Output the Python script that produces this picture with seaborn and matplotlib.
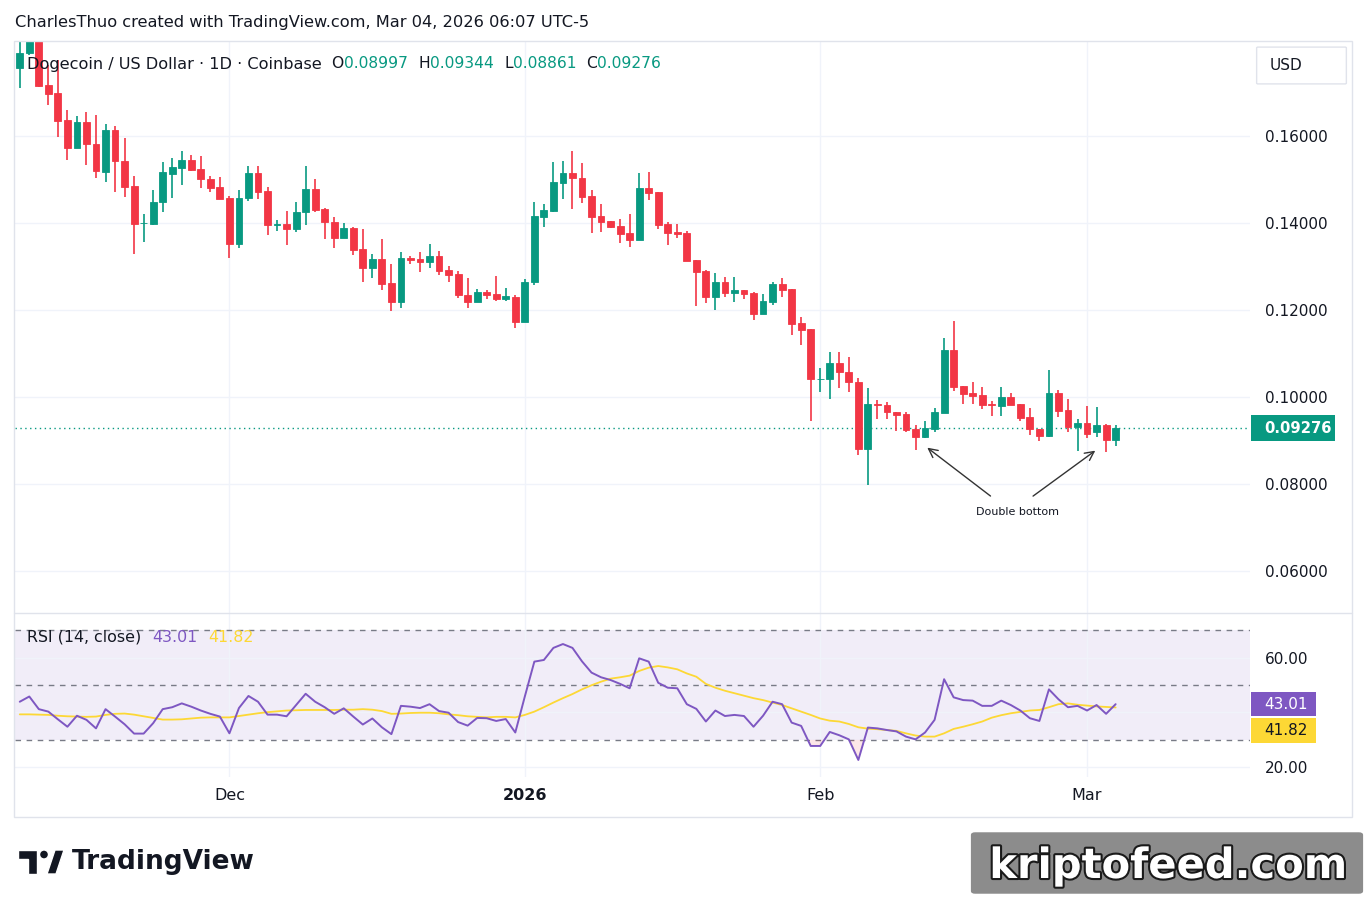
# Dogecoin / US Dollar, 1D, Coinbase - candles + RSI(14) pane

import numpy as np
import pandas as pd
import matplotlib
matplotlib.use("Agg")
import matplotlib.pyplot as plt
import matplotlib.patheffects as pe
from matplotlib.lines import Line2D
from matplotlib.patches import Rectangle, FancyBboxPatch, Polygon, Ellipse
import seaborn as sns

# daily candles, first candle = Nov 9 2025, last = Mar 4 2026
start_day = "2025-11-09"

opens = [0.1757, 0.1790, 0.1830, 0.1717, 0.1698, 0.1637, 0.1573, 0.1631, 0.1582, 0.1516,
         0.1614, 0.1543, 0.1485, 0.1399, 0.1397, 0.1447, 0.1513, 0.1527, 0.1545, 0.1524,
         0.1501, 0.1483, 0.1457, 0.1352, 0.1456, 0.1515, 0.1474, 0.1396, 0.1398, 0.1385,
         0.1424, 0.1478, 0.1432, 0.1402, 0.1366, 0.1388, 0.1340, 0.1295, 0.1317, 0.1262,
         0.1217, 0.1319, 0.1317, 0.1309, 0.1324, 0.1292, 0.1283, 0.1234, 0.1217, 0.1241,
         0.1237, 0.1224, 0.1230, 0.1171, 0.1264, 0.1414, 0.1428, 0.1492, 0.1515, 0.1503,
         0.1462, 0.1416, 0.1404, 0.1393, 0.1377, 0.1361, 0.1480, 0.1471, 0.1398, 0.1379,
         0.1377, 0.1315, 0.1290, 0.1230, 0.1264, 0.1239, 0.1246, 0.1239, 0.1191, 0.1218,
         0.1260, 0.1248, 0.1170, 0.1156, 0.1040, 0.1040, 0.1078, 0.1057, 0.1034, 0.0881,
         0.0984, 0.0982, 0.0965, 0.0960, 0.0926, 0.0908, 0.0926, 0.0962, 0.1108, 0.1025,
         0.1009, 0.1004, 0.0984, 0.0980, 0.1000, 0.0984, 0.0954, 0.0926, 0.0911, 0.1009,
         0.0970, 0.0931, 0.0940, 0.0918, 0.0935, 0.08997]
highs = [0.1815, 0.1845, 0.1845, 0.1763, 0.1775, 0.1660, 0.1646, 0.1654, 0.1648, 0.1628,
         0.1623, 0.1595, 0.1508, 0.1421, 0.1476, 0.1539, 0.1549, 0.1566, 0.1555, 0.1554,
         0.1508, 0.1506, 0.1462, 0.1476, 0.1531, 0.1531, 0.1483, 0.1407, 0.1428, 0.1449,
         0.1531, 0.1501, 0.1434, 0.1414, 0.1400, 0.1391, 0.1385, 0.1329, 0.1362, 0.1306,
         0.1333, 0.1324, 0.1333, 0.1352, 0.1336, 0.1301, 0.1290, 0.1274, 0.1248, 0.1246,
         0.1278, 0.1250, 0.1234, 0.1271, 0.1448, 0.1444, 0.1540, 0.1543, 0.1566, 0.1538,
         0.1476, 0.1444, 0.1404, 0.1409, 0.1421, 0.1515, 0.1517, 0.1471, 0.1402, 0.1398,
         0.1382, 0.1315, 0.1292, 0.1285, 0.1276, 0.1276, 0.1246, 0.1241, 0.1237, 0.1264,
         0.1274, 0.1248, 0.1184, 0.1156, 0.1066, 0.1104, 0.1104, 0.1092, 0.1044, 0.1020,
         0.0993, 0.0989, 0.0965, 0.0964, 0.0935, 0.0944, 0.0974, 0.1135, 0.1175, 0.1025,
         0.1034, 0.1023, 0.0991, 0.1023, 0.1009, 0.0984, 0.0975, 0.0926, 0.1062, 0.1016,
         0.0995, 0.0949, 0.0979, 0.0977, 0.0938, 0.09344]
lows = [0.1711, 0.1785, 0.1713, 0.1670, 0.1598, 0.1545, 0.1571, 0.1533, 0.1504, 0.1493,
        0.1470, 0.1460, 0.1329, 0.1355, 0.1395, 0.1426, 0.1456, 0.1486, 0.1520, 0.1481,
        0.1471, 0.1455, 0.1318, 0.1343, 0.1450, 0.1455, 0.1373, 0.1382, 0.1348, 0.1380,
        0.1394, 0.1424, 0.1362, 0.1343, 0.1366, 0.1327, 0.1265, 0.1272, 0.1246, 0.1198,
        0.1205, 0.1306, 0.1286, 0.1295, 0.1279, 0.1263, 0.1228, 0.1205, 0.1217, 0.1226,
        0.1221, 0.1221, 0.1159, 0.1171, 0.1257, 0.1391, 0.1425, 0.1455, 0.1432, 0.1446,
        0.1377, 0.1379, 0.1388, 0.1354, 0.1345, 0.1361, 0.1453, 0.1386, 0.1349, 0.1365,
        0.1313, 0.1209, 0.1216, 0.1200, 0.1230, 0.1218, 0.1225, 0.1177, 0.1191, 0.1211,
        0.1230, 0.1142, 0.1120, 0.0945, 0.1010, 0.0994, 0.1021, 0.1010, 0.0867, 0.0798,
        0.0948, 0.0948, 0.0922, 0.0918, 0.0878, 0.0906, 0.0918, 0.0962, 0.1014, 0.0984,
        0.0984, 0.0973, 0.0955, 0.0957, 0.0982, 0.0945, 0.0913, 0.0899, 0.0908, 0.0954,
        0.0920, 0.0876, 0.0906, 0.0908, 0.0874, 0.08861]
closes = [0.1790, 0.1830, 0.1715, 0.1697, 0.1635, 0.1573, 0.1631, 0.1582, 0.1518, 0.1614,
          0.1541, 0.1483, 0.1398, 0.1400, 0.1448, 0.1516, 0.1529, 0.1545, 0.1522, 0.1500,
          0.1481, 0.1455, 0.1352, 0.1457, 0.1515, 0.1470, 0.1394, 0.1397, 0.1385, 0.1425,
          0.1478, 0.1430, 0.1401, 0.1366, 0.1388, 0.1338, 0.1295, 0.1317, 0.1260, 0.1217,
          0.1319, 0.1315, 0.1309, 0.1324, 0.1290, 0.1281, 0.1233, 0.1217, 0.1241, 0.1234,
          0.1224, 0.1232, 0.1171, 0.1264, 0.1416, 0.1430, 0.1494, 0.1515, 0.1502, 0.1460,
          0.1414, 0.1402, 0.1391, 0.1375, 0.1361, 0.1480, 0.1469, 0.1395, 0.1377, 0.1375,
          0.1313, 0.1287, 0.1230, 0.1264, 0.1239, 0.1246, 0.1237, 0.1191, 0.1220, 0.1260,
          0.1246, 0.1168, 0.1154, 0.1040, 0.1042, 0.1078, 0.1056, 0.1033, 0.0881, 0.0984,
          0.0982, 0.0964, 0.0959, 0.0924, 0.0908, 0.0928, 0.0965, 0.1108, 0.1023, 0.1007,
          0.1003, 0.0982, 0.0982, 0.1000, 0.0982, 0.0952, 0.0925, 0.0911, 0.1009, 0.0968,
          0.0931, 0.0940, 0.0915, 0.0935, 0.08997, 0.09276]

rsi_vals = [43.9, 45.8, 41.2, 40.3, 37.5, 34.8, 38.8, 37.3, 34.2, 41.2,
            38.5, 35.7, 32.3, 32.3, 36.1, 41.2, 41.9, 43.3, 42.1, 40.7,
            39.5, 38.5, 32.4, 41.6, 46.0, 43.9, 39.2, 39.2, 38.6, 42.7,
            46.8, 43.9, 41.9, 39.5, 41.5, 38.5, 35.6, 37.8, 34.6, 32.1,
            42.4, 42.1, 41.6, 43.0, 40.5, 39.9, 36.5, 35.2, 38.0, 37.9,
            36.9, 37.6, 32.7, 45.8, 58.5, 59.1, 63.5, 64.9, 63.5, 58.6,
            54.5, 52.8, 51.8, 50.4, 48.8, 59.7, 58.5, 50.8, 49.0, 48.8,
            43.0, 41.3, 36.7, 40.7, 38.7, 39.1, 38.7, 34.8, 38.8, 43.9,
            43.0, 36.3, 35.1, 27.8, 27.8, 32.9, 31.7, 30.2, 22.7, 34.5,
            34.2, 33.6, 33.1, 31.2, 30.2, 32.7, 37.3, 52.1, 45.5, 44.5,
            44.3, 42.4, 42.4, 44.3, 42.7, 40.7, 37.9, 36.9, 48.4, 44.8,
            41.9, 42.4, 40.7, 42.7, 39.5, 43.01]
rsi_ma_vals = [39.3, 39.3, 39.2, 39.1, 38.8, 38.6, 38.5, 38.4, 38.5, 39.1,
               39.5, 39.6, 39.2, 38.6, 38.0, 37.4, 37.4, 37.5, 37.8, 38.1,
               38.2, 38.2, 38.2, 38.7, 39.2, 39.7, 40.1, 40.4, 40.7, 40.8,
               40.9, 40.9, 40.9, 40.9, 41.0, 41.0, 41.2, 41.0, 40.5, 39.5,
               39.6, 39.8, 39.9, 39.9, 39.7, 39.3, 39.0, 38.6, 38.4, 38.2,
               38.4, 38.4, 38.2, 39.1, 40.3, 41.9, 43.6, 45.2, 46.7, 48.4,
               49.9, 51.2, 52.3, 52.8, 53.4, 55.1, 56.3, 56.9, 56.4, 55.7,
               54.2, 53.0, 50.4, 49.0, 47.9, 47.0, 46.1, 45.2, 44.5, 43.6,
               42.7, 41.5, 40.3, 39.1, 37.8, 37.0, 36.7, 35.8, 34.6, 34.1,
               33.9, 33.6, 33.3, 32.4, 31.6, 31.2, 31.2, 32.4, 34.0, 34.8,
               35.7, 36.7, 38.1, 39.0, 39.7, 40.2, 40.7, 40.9, 41.9, 43.0,
               43.3, 42.8, 42.5, 42.2, 42.0, 41.82]

price_ticks = [0.06, 0.08, 0.10, 0.12, 0.14, 0.16]
month_ticks = ["2025-12-01", "2026-01-01", "2026-02-01", "2026-03-01"]
month_labels = ["Dec", "2026", "Feb", "Mar"]

dates = pd.date_range(start_day, periods=len(opens), freq="D")
df = pd.DataFrame({"date": dates, "open": opens, "high": highs, "low": lows,
                   "close": closes, "rsi": rsi_vals, "rsi_ma": rsi_ma_vals})
df["up"] = df["close"] >= df["open"]

GREEN = "#089981"
RED = "#F23645"
PURPLE = "#7E57C2"
YELLOW = "#FDD835"
TEXT = "#131722"
GRID = "#F0F3FA"
BORDER = "#E0E3EB"

sns.set_style("white")
plt.rcParams["font.family"] = ["DejaVu Sans"]

W, H = 1367, 907
fig = plt.figure(figsize=(W / 100, H / 100), dpi=100)
fig.patch.set_facecolor("white")


def fx(px):
    return px / W


def fy(py):
    return 1 - py / H


ax = fig.add_axes([fx(15), fy(613), fx(1250) - fx(15), fy(41) - fy(613)])
ax2 = fig.add_axes([fx(15), fy(777), fx(1250) - fx(15), fy(613) - fy(777)], sharex=ax)

def day(i):
    return dates[0] + pd.Timedelta(days=i)

# ---- candles
colors = np.where(df["up"], GREEN, RED)
body_low = df[["open", "close"]].min(axis=1)
body_h = (df["close"] - df["open"]).abs()
ax.vlines(df["date"], df["low"], df["high"], colors=colors, lw=1.2, zorder=3)
ax.bar(df["date"], body_h, bottom=body_low, width=0.72, color=colors,
       edgecolor=colors, linewidth=0.6, zorder=4)

ax.set_xlim(day(-0.5), day(129.1))
ax.set_ylim(0.0503, 0.1818)
ax.set_yticks(price_ticks)
ax.set_yticklabels([f"{v:.5f}" for v in price_ticks])
ax.yaxis.tick_right()
ax.tick_params(axis="y", length=0, pad=11, labelsize=11, labelcolor=TEXT)
ax.tick_params(axis="x", length=0, labelbottom=False)
ax.set_xticks(pd.to_datetime(month_ticks))
ax.grid(True, color=GRID, lw=1, zorder=0)
for s in ax.spines.values():
    s.set_visible(False)

# last price line + label
last = closes[-1]
ax.axhline(last, color=GREEN, ls=(0, (1, 2.5)), lw=1, zorder=2)
ax.add_patch(Rectangle((1.0008, last - 0.003), 84 / 1235, 0.006, transform=ax.get_yaxis_transform(),
                       fc=GREEN, ec="none", clip_on=False))
ax.text(1.0113, last, f"{last:.5f}", transform=ax.get_yaxis_transform(), color="white",
        fontsize=10.6, fontweight="bold", va="center", ha="left")

# double bottom note
ax.annotate("Double bottom", xy=(day(104.7), 0.0736), ha="center", va="center",
            fontsize=8, color=TEXT)
arrow = dict(arrowstyle="->", color="#333333", lw=1, mutation_scale=16)
ax.annotate("", xy=(day(95.0), 0.0887), xytext=(day(102.1), 0.0768), arrowprops=arrow)
ax.annotate("", xy=(day(113.1), 0.0880), xytext=(day(106.1), 0.0768), arrowprops=arrow)

# ---- RSI pane
ax2.axhspan(30, 70, color=PURPLE, alpha=0.1, lw=0, zorder=0)
for lvl in (70, 50, 30):
    ax2.axhline(lvl, color="#787B86", ls=(0, (4, 4)), lw=1, zorder=1)
r = np.array(rsi_vals)
ax2.fill_between(df["date"], r, 30, where=r < 30, interpolate=True, color=RED, alpha=0.12, lw=0)
sns.lineplot(data=df, x="date", y="rsi_ma", color=YELLOW, lw=1.3, ax=ax2, zorder=3)
sns.lineplot(data=df, x="date", y="rsi", color=PURPLE, lw=1.4, ax=ax2, zorder=4)
ax2.set_ylim(16.5, 76.2)
ax2.set_yticks([20, 40, 60])
ax2.set_yticklabels(["20.00", "", "60.00"])
ax2.yaxis.tick_right()
ax2.tick_params(axis="y", length=0, pad=11, labelsize=11, labelcolor=TEXT)
ax2.set_xticks(pd.to_datetime(month_ticks))
ax2.set_xticklabels(month_labels)
ax2.tick_params(axis="x", length=0, pad=8, labelsize=11.5, labelcolor=TEXT)
ax2.get_xticklabels()[1].set_fontweight("bold")
ax2.set_xlabel("")
ax2.set_ylabel("")
ax2.grid(True, color=GRID, lw=1, zorder=0)
for s in ax2.spines.values():
    s.set_visible(False)

bw = 65 / 1235
ax2.add_patch(Rectangle((1.0008, rsi_vals[-1] - 4.36), bw, 8.72, transform=ax2.get_yaxis_transform(),
                        fc=PURPLE, ec="none", clip_on=False))
ax2.text(1.0113, rsi_vals[-1], f"{rsi_vals[-1]:.2f}", transform=ax2.get_yaxis_transform(),
         color="white", fontsize=11, va="center", ha="left")
ma_y = rsi_ma_vals[-1] - 8.4
ax2.add_patch(Rectangle((1.0008, ma_y - 4.5), bw, 9.0, transform=ax2.get_yaxis_transform(),
                        fc=YELLOW, ec="none", clip_on=False))
ax2.text(1.0113, ma_y, f"{rsi_ma_vals[-1]:.2f}", transform=ax2.get_yaxis_transform(),
         color=TEXT, fontsize=11, va="center", ha="left")

# ---- frame
fig.add_artist(Rectangle((fx(14), fy(817)), fx(1352) - fx(14), fy(41) - fy(817),
                         transform=fig.transFigure, fill=False, ec=BORDER, lw=1))
fig.add_artist(Line2D([fx(14), fx(1352)], [fy(613), fy(613)], color=BORDER, lw=1))

# ---- texts
fig.text(fx(15), fy(22), "CharlesThuo created with TradingView.com, Mar 04, 2026 06:07 UTC-5",
         fontsize=11.7, color=TEXT, va="center")

t = fig.text(fx(27), fy(64), "Dogecoin / US Dollar · 1D · Coinbase", fontsize=11.6,
             color=TEXT, va="center")
prev = t
gap = 7
for letter, val in zip("OHLC", [opens[-1], highs[-1], lows[-1], closes[-1]]):
    a = ax.annotate(letter, xy=(1, 0.5), xycoords=prev, xytext=(gap, 0), textcoords="offset points",
                    va="center", ha="left", fontsize=11.2, color=TEXT, annotation_clip=False)
    prev = ax.annotate(f"{val:.5f}", xy=(1, 0.5), xycoords=a, xytext=(0, 0),
                       textcoords="offset points", va="center", ha="left", fontsize=11.2,
                       color=GREEN, annotation_clip=False)
    gap = 7.5

t2 = fig.text(fx(27), fy(637), "RSI (14, close)", fontsize=11.4, color=TEXT, va="center")
a2 = ax2.annotate(f"{rsi_vals[-1]:.2f}", xy=(1, 0.5), xycoords=t2, xytext=(8, 0),
                  textcoords="offset points", va="center", fontsize=11.4, color=PURPLE,
                  annotation_clip=False)
ax2.annotate(f"{rsi_ma_vals[-1]:.2f}", xy=(1, 0.5), xycoords=a2, xytext=(8, 0),
             textcoords="offset points", va="center", fontsize=11.4, color=YELLOW,
             annotation_clip=False)

# USD button
fig.add_artist(FancyBboxPatch((fx(1258), fy(83)), fx(1345) - fx(1258), fy(48) - fy(83),
                              boxstyle="round,pad=0.001", transform=fig.transFigure,
                              fc="white", ec=BORDER, lw=1))
fig.text(fx(1286), fy(66), "USD", fontsize=11, color=TEXT, ha="center", va="center")

# TradingView logo
logo = [Polygon([(fx(18), fy(850)), (fx(37), fy(850)), (fx(37), fy(874)), (fx(28), fy(874)),
                 (fx(28), fy(859)), (fx(18), fy(859))]),
        Polygon([(fx(47), fy(874)), (fx(55), fy(850)), (fx(64), fy(850)), (fx(56), fy(874))])]
for p in logo:
    p.set_transform(fig.transFigure)
    p.set_facecolor(TEXT)
    fig.add_artist(p)
fig.add_artist(Ellipse((fx(44), fy(854.5)), 9 / W, 9 / H, transform=fig.transFigure, fc=TEXT))
fig.text(fx(72), fy(862), "TradingView", fontsize=19, fontweight="bold", color=TEXT, va="center")

# watermark
fig.add_artist(FancyBboxPatch((fx(975), fy(891)), fx(1359) - fx(975), fy(835) - fy(891),
                              boxstyle="round,pad=0.003", transform=fig.transFigure,
                              fc="#8C8C8C", ec="none"))
fig.text(fx(1168), fy(866), "kriptofeed.com", fontsize=30, fontweight="bold", color="white",
         ha="center", va="center",
         path_effects=[pe.withStroke(linewidth=3, foreground="#1a1a1a")])

fig.savefig("out.png", dpi=100, facecolor="white")
